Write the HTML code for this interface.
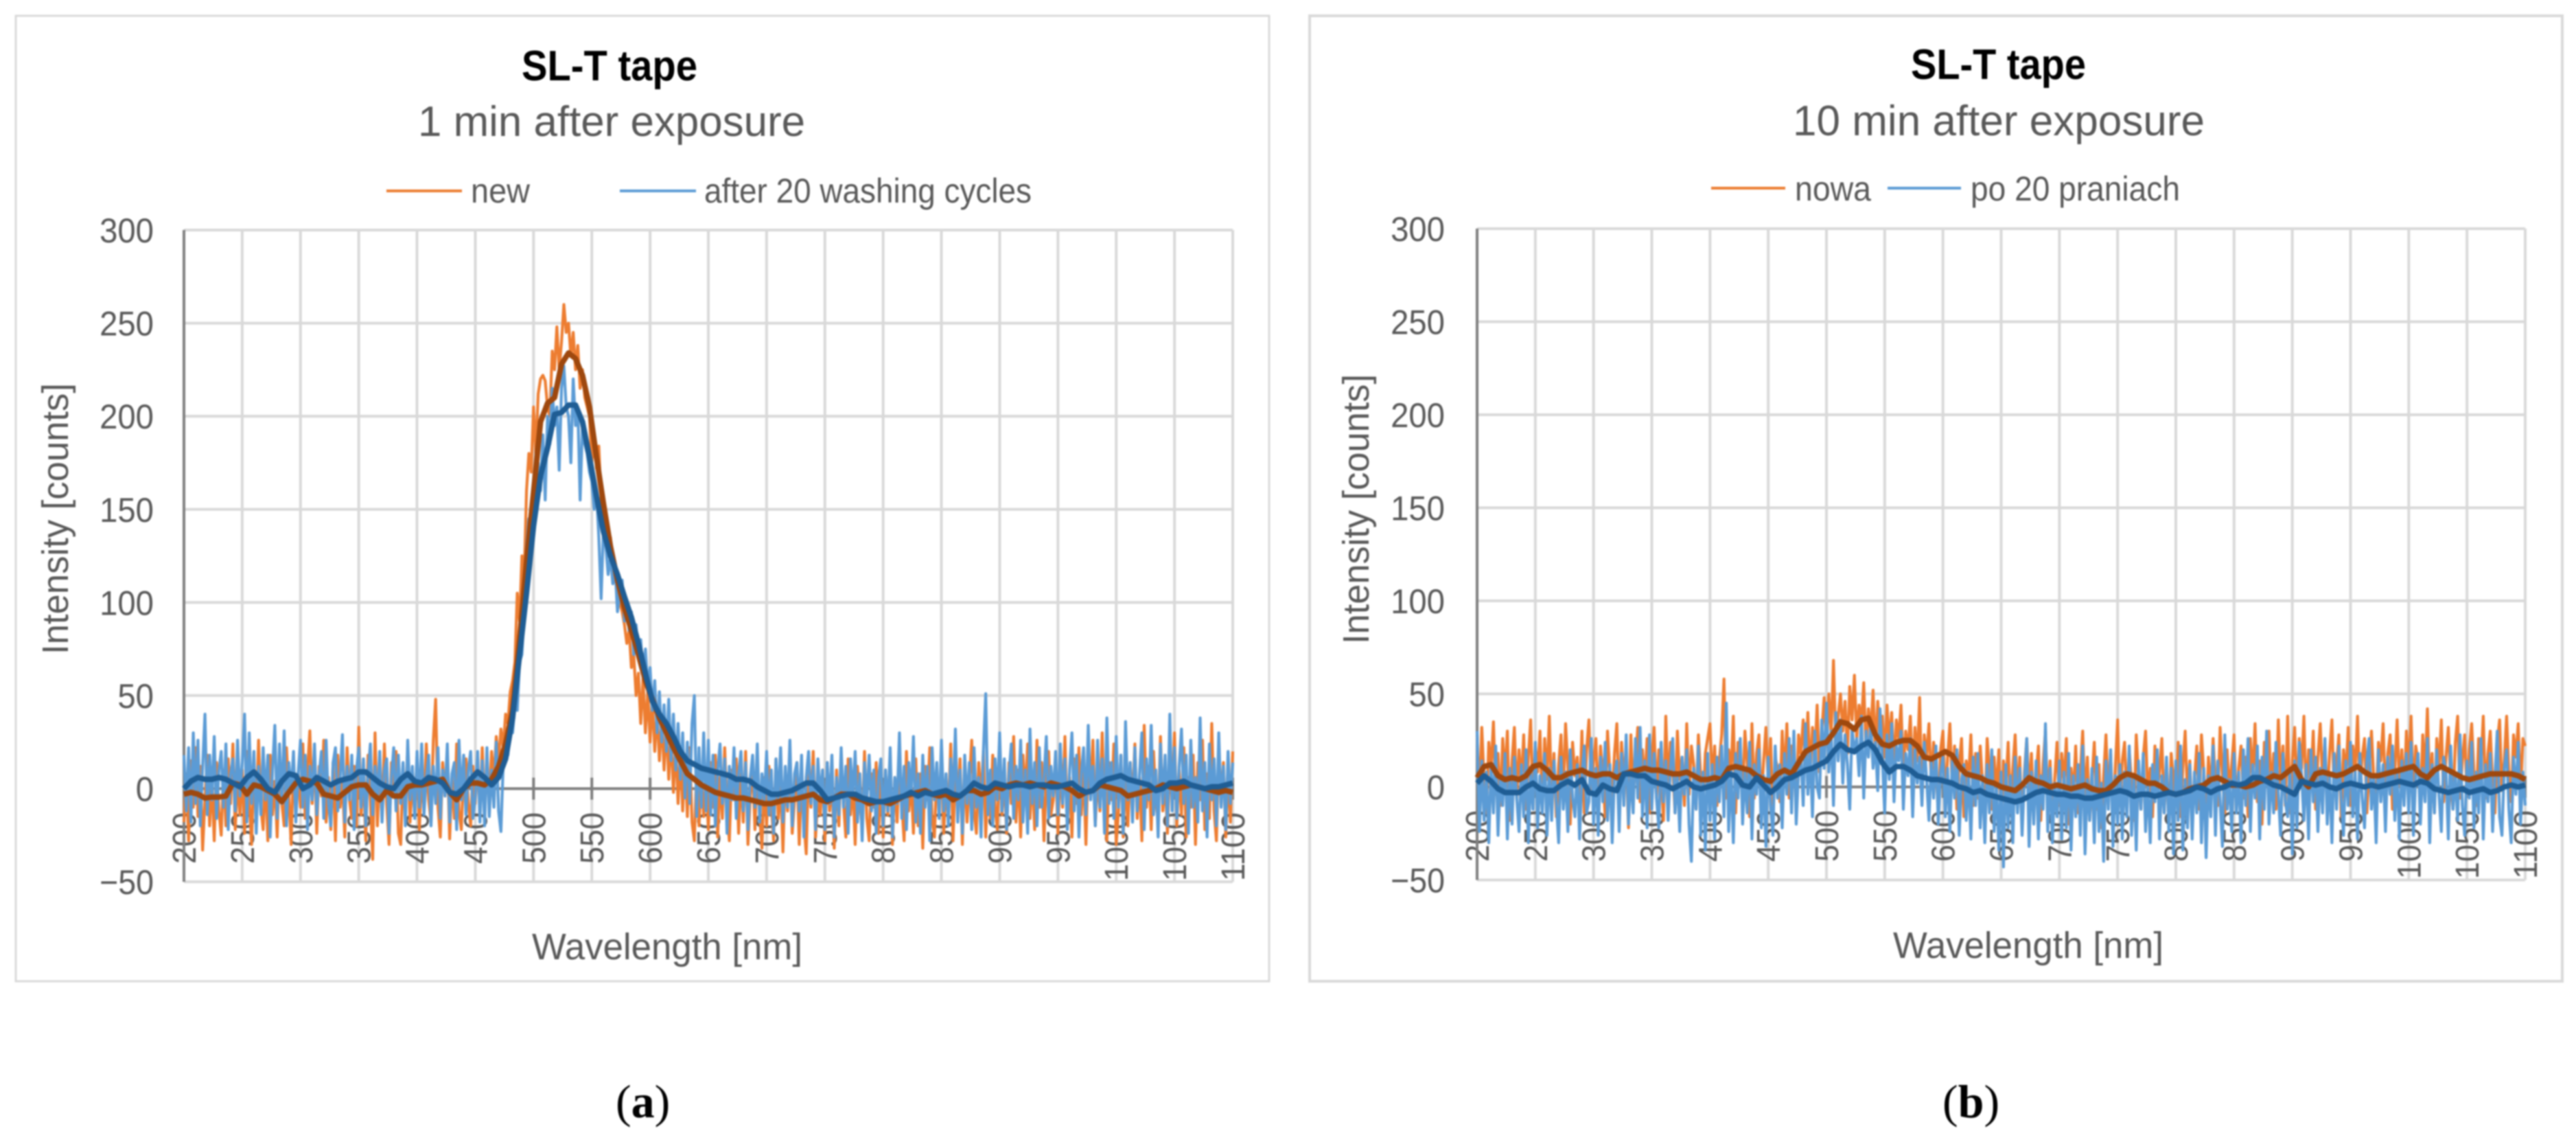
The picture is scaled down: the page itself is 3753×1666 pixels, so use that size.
<!DOCTYPE html>
<html lang="en">
<head>
<meta charset="utf-8">
<title>SL-T tape spectra</title>
<style>
html,body{margin:0;padding:0;background:#fff;width:3753px;height:1666px;overflow:hidden}
svg{display:block;filter:blur(1.1px)}
text{font-family:"Liberation Sans",sans-serif;fill:#595959}
.cap{font-family:"Liberation Serif",serif;fill:#000;font-size:68px}
</style>
</head>
<body>
<svg id="figure" xmlns="http://www.w3.org/2000/svg" width="3753" height="1666" viewBox="0 0 3753 1666">
  <rect x="23" y="23" width="1826" height="1406" fill="#fff" stroke="#d9d9d9" stroke-width="3"/>
  <rect x="1908" y="23" width="1825" height="1406" fill="#fff" stroke="#d9d9d9" stroke-width="4"/>
  <g id="chart-a"></g>
  <g id="chart-b"></g>

  <text x="760" y="117" font-size="62" font-weight="bold" style="fill:#000" textLength="256" lengthAdjust="spacingAndGlyphs">SL-T tape</text>
  <text x="609" y="198" font-size="62" textLength="564" lengthAdjust="spacingAndGlyphs">1 min after exposure</text>
  <line x1="563" x2="673" y1="278" y2="278" stroke="#ed7d31" stroke-width="4"/>
  <text x="686" y="295" font-size="50" textLength="86" lengthAdjust="spacingAndGlyphs">new</text>
  <line x1="903" x2="1014" y1="278" y2="278" stroke="#5b9bd5" stroke-width="4"/>
  <text x="1026" y="295" font-size="50" textLength="477" lengthAdjust="spacingAndGlyphs">after 20 washing cycles</text>
  <text x="775" y="1397" font-size="54" textLength="394" lengthAdjust="spacingAndGlyphs">Wavelength [nm]</text>
  <text transform="translate(99,953) rotate(-90)" font-size="54" textLength="395" lengthAdjust="spacingAndGlyphs">Intensity [counts]</text>
  <text class="cap" x="897" y="1627">(<tspan font-weight="bold" style="fill:#000">a</tspan>)</text>

  <text x="2784" y="115" font-size="62" font-weight="bold" style="fill:#000" textLength="255" lengthAdjust="spacingAndGlyphs">SL-T tape</text>
  <text x="2612" y="197" font-size="62" textLength="600" lengthAdjust="spacingAndGlyphs">10 min after exposure</text>
  <line x1="2493" x2="2601" y1="274" y2="274" stroke="#ed7d31" stroke-width="4"/>
  <text x="2615" y="292" font-size="50" textLength="111" lengthAdjust="spacingAndGlyphs">nowa</text>
  <line x1="2750" x2="2857" y1="274" y2="274" stroke="#5b9bd5" stroke-width="4"/>
  <text x="2871" y="292" font-size="50" textLength="305" lengthAdjust="spacingAndGlyphs">po 20 praniach</text>
  <text x="2758" y="1395" font-size="54" textLength="394" lengthAdjust="spacingAndGlyphs">Wavelength [nm]</text>
  <text transform="translate(1994,938) rotate(-90)" font-size="54" textLength="393" lengthAdjust="spacingAndGlyphs">Intensity [counts]</text>
  <text class="cap" x="2830" y="1627">(<tspan font-weight="bold" style="fill:#000">b</tspan>)</text>
</svg>
<script>
const xTicks = [200,250,300,350,400,450,500,550,600,650,700,750,800,850,900,950,1000,1050,1100];
const yTicks = [-50,0,50,100,150,200,250,300];
const yTickLabels = ['\u221250','0','50','100','150','200','250','300'];
const rawStartNm = 200;
const rawStepNm = 2;
const smoothStartNm = 200;
const smoothStepNm = 6;

const newRawA = [
-18,8,-28,15,-10,22,-15,12,-33,-6,18,-20,6,-28,14,-12,-25,10,-20,16,-8,24,-22,6,-14,
10,-24,20,-6,-30,12,-16,26,-10,-22,8,-28,18,-14,4,-26,14,-8,-20,22,-4,-30,16,-12,8,
-10,24,-16,10,31,-8,20,-24,12,-4,26,-18,6,-22,14,-28,18,-10,4,-26,22,-6,-16,12,-20,
33,-14,8,-28,18,-6,-38,30,-20,10,-16,24,-8,-30,14,-4,20,-24,-30,12,-10,22,-18,6,-14,
18,-22,8,-12,24,-6,-18,26,48,-10,-26,14,-4,20,-27,6,-16,24,-12,-22,10,16,-8,-20,12,
-8,18,-15,22,-12,15,-6,20,5,28,15,32,22,40,35,52,58,68,105,90,125,115,160,180,170,
205,180,212,220,222,219,205,200,235,225,248,225,240,260,245,250,232,245,225,238,215,225,210,205,200,
175,190,172,184,155,150,140,125,135,120,112,108,100,95,88,78,85,65,72,50,62,35,60,30,52,
25,48,20,42,15,38,10,35,5,30,-2,25,-8,20,-12,18,-15,22,-18,-28,12,-20,8,-15,5,
-22,14,-10,18,-26,6,-16,22,-12,-28,10,-6,16,-24,8,-18,20,-30,-4,12,-22,14,-14,-32,6,
-20,12,-8,-28,16,-16,4,-34,10,-12,18,-24,-6,14,-30,8,-18,-35,12,-10,20,-26,-4,-14,10,
-28,14,-12,6,-32,10,-20,18,-8,-26,16,-14,4,-30,12,-6,-22,20,-16,-28,8,-10,14,-24,6,
-26,10,-14,18,-30,6,-18,14,-8,-28,20,-12,4,-24,16,-20,8,-32,12,-6,22,-16,-26,10,-10,
18,-24,6,-14,24,-28,10,-8,16,-30,12,-18,4,26,-12,-24,14,-6,20,-26,8,-16,18,-10,-22,
22,-14,6,-24,14,-8,28,-18,10,-26,18,-4,24,-16,8,-22,26,-10,14,-28,6,20,-14,-6,16,
-24,12,-10,28,-18,6,-26,16,-8,22,-14,10,-30,18,-4,26,-20,8,-12,30,-16,-28,14,-6,24,
-30,-12,18,-26,8,-20,14,-8,24,-16,6,-28,34,-10,12,-22,20,-6,-18,28,-12,4,-24,16,-8,
30,-20,10,-14,22,-26,6,-10,18,-30,14,-6,26,-22,8,-16,35,-12,-28,20,-8,14,-26,10,-18,
20];

const washedRawA = [
18,-12,22,-18,30,-8,26,-20,12,40,-14,18,-6,28,-16,10,20,-10,24,-22,8,16,-12,26,-4,
14,40,-18,30,-8,20,-24,12,-14,22,-6,18,-26,10,34,-16,24,-8,31,-20,14,-2,20,-18,8,
26,-10,18,-22,12,-6,24,-14,8,20,-16,26,-8,-20,14,22,-12,6,29,-18,12,-6,18,-22,10,
22,-10,16,-20,8,24,-14,12,-6,20,-18,10,16,-24,6,22,-12,18,-8,14,-20,26,-6,12,-16,
20,-10,24,-14,6,18,-20,12,-8,22,-16,10,-4,24,-18,8,14,-22,26,-6,18,-14,10,20,-16,
-5,20,-18,15,-20,22,-15,10,-10,25,-12,-23,14,24,18,32,30,45,42,68,72,95,130,145,125,
165,150,175,160,190,155,200,185,215,195,205,171,215,227,205,200,175,220,195,205,155,195,185,180,170,
165,150,160,135,102,140,130,115,125,110,118,95,105,112,90,100,85,95,72,88,70,80,60,75,55,
65,42,58,30,52,25,45,20,48,15,40,10,35,5,30,-5,25,-8,35,50,-15,22,-10,30,-12,
26,-14,18,-20,10,24,-8,16,-24,12,-6,22,-16,8,20,-12,14,-22,6,18,-10,24,-18,8,-6,
20,-14,10,-24,16,-6,22,-18,12,-10,26,-20,8,14,-12,18,-26,6,20,-8,12,-22,16,-4,10,
-22,14,-8,18,-26,6,-14,22,-10,12,-24,16,-4,20,-18,8,-28,14,-6,18,-12,10,-24,6,16,
-20,10,-12,22,-26,6,-8,30,-16,12,-22,14,-4,28,-18,8,-24,18,-10,12,-28,22,-6,14,-16,
26,-12,8,-20,16,-6,32,-18,10,-24,18,-8,14,-22,22,-10,6,-26,20,51,-14,10,-20,16,-6,
30,-12,16,-22,8,24,-16,12,-6,26,-18,10,-24,32,-8,14,-20,22,-10,6,28,-16,12,-4,20,
-14,24,-8,16,-22,10,30,-12,18,-26,8,22,-14,34,-6,12,-20,26,-10,16,-24,38,-8,14,-16,
28,-10,18,-24,36,-6,14,-18,22,-12,8,30,-22,16,-6,34,-14,10,-26,24,-8,18,-20,40,-12,
22,-16,12,32,-8,18,-24,26,-10,6,-18,38,-12,14,-26,24,-6,16,-20,30,-10,12,-22,20,-8,
14];

const newSmoothA = [
-3,-2,-3,-5,-4.5,-4.5,-4,3,2,-3,
2,1,-1,-3,-7,-2,3,5,4,3,
-3,-4,-5,-2,1,2,2,-3,-6,-1,
-4,-4,1,2,2,3,4,5,-2,-6,
0,3,3,2,5,12,24,42,80,122,
159,197,207,210,228,234,231,222,205,178,
153,130,112,97,85,72,58,48,38,30,
22,15,8,5,2,0,-2,-3,-4,-5,
-5,-6,-7,-8,-8,-7,-6,-6,-5,-4,
-3,-6,-7,-5,-3,-3,-5,-6,-8,-7,
-7,-8,-6,-4,-3,-2,-1,-3,-4,-3,
-6,-4,-1,-1,-3,-2,1,0,2,3,
2,3,2,1,3,2,1,-1,-4,-2,
-1,2,1,0,-1,-4,-3,-2,-1,0,
2,1,0,1,2,1,0,-1,-2,-1,
-2];

const washedSmoothA = [
0,4,6,5,5,6,5,3,1,6,
9,5,0,-2,4,8,7,0,2,6,
4,2,4,5,6,9,9,6,3,1,
0,5,8,4,3,6,5,3,-2,-3,
0,5,9,6,2,6,16,38,72,105,
141,168,183,201,202,206,206,197,178,157,
138,125,115,103,92,78,62,47,40,35,
28,20,15,13,11,10,9,8,7,5,
5,4,1,-1,-3,-3,-2,-1,1,3,
3,-1,-6,-5,-4,-3,-3,-5,-6,-7,
-7,-6,-5,-4,-2,-4,-2,-3,-2,-1,
-3,-4,-1,3,1,0,3,2,1,2,
2,1,2,2,1,1,2,3,0,-2,
-1,3,5,6,7,5,4,3,2,-1,
0,3,3,4,2,1,0,1,1,2,
3];

const newRawB = [
28,-8,32,4,-14,24,10,35,-4,18,-10,26,6,30,-18,14,32,-6,20,2,28,-12,16,36,-8,
22,8,30,-12,26,4,38,-6,18,-16,12,28,-4,34,10,-20,24,6,16,-8,30,-14,20,36,-2,
14,26,-10,22,6,-16,30,8,-6,18,34,-12,24,4,16,-22,28,-4,12,32,-8,20,2,26,-14,
16,32,-6,20,8,-18,38,-2,24,10,-14,30,4,16,-10,34,-4,22,12,-12,28,6,-8,18,26,
34,2,22,-10,14,28,58,-6,20,8,38,-14,24,6,-4,30,12,-16,34,-6,18,28,-10,14,32,
2,26,-18,16,10,-8,30,4,34,-6,22,14,-12,28,18,36,10,40,6,32,16,44,8,30,48,
22,50,28,68,24,38,50,30,46,18,54,36,60,26,44,34,56,20,42,30,52,18,46,28,38,
16,44,24,40,10,36,26,44,8,30,20,38,4,32,14,48,-6,28,16,34,2,24,10,-14,20,
30,-8,16,34,0,22,-12,12,26,-16,14,4,28,-10,18,-6,22,2,-18,26,8,-12,16,-4,20,
-20,14,0,24,-12,10,28,-6,16,-22,8,26,-4,18,-14,6,22,-18,12,30,-8,14,-16,4,24,
-10,18,2,26,-20,10,-4,22,-14,8,30,-8,16,-18,4,24,-12,12,-22,6,28,-6,18,-16,10,
36,-10,14,24,-8,20,2,-18,28,6,-12,16,30,-6,10,-16,22,-2,8,26,-14,12,-20,18,4,
-8,24,-16,10,30,-6,14,-20,4,22,-12,28,8,-18,16,-4,26,2,-10,32,6,-14,20,-2,12,
28,-12,10,22,-6,16,-16,26,4,34,-8,14,-20,24,6,30,-4,18,-12,36,2,22,-10,38,-14,
14,32,-6,26,10,38,-8,20,4,30,-12,16,34,2,24,-8,18,36,-4,12,28,-16,20,6,32,
-10,22,8,38,-2,16,26,-14,10,30,4,-8,24,14,34,-6,18,28,-12,8,36,0,20,-4,30,
10,38,-6,22,14,-10,28,6,42,-2,18,-14,26,10,36,-8,16,32,2,-12,24,38,-6,14,28,
-4,20,34,8,-10,26,12,38,-6,18,30,2,-14,24,36,-2,14,38,8,-8,28,16,34,-4,26,
22];

const washedRawB = [
30,-24,14,-18,8,-30,12,-14,22,-26,6,-10,18,-28,10,-20,16,-6,-24,12,-16,20,-30,8,-12,
24,-22,6,-14,18,-26,10,-18,14,-8,-30,16,-12,8,-24,20,-6,-16,12,-28,6,22,-14,-8,26,
-20,10,-26,16,-8,24,-18,12,-30,6,14,-24,18,-10,28,-20,8,-14,26,-6,32,-16,14,-22,28,
-12,18,-6,-22,24,-8,14,-18,10,26,-14,6,-24,16,-4,20,-20,-40,10,-12,22,-26,8,-34,18,
-18,12,-28,16,-8,22,-16,45,-24,10,-30,18,-6,26,-20,8,-14,24,-28,12,-4,20,-22,6,-32,
16,-10,-26,22,-6,12,-22,18,-4,26,-14,30,-20,8,16,-10,34,-4,20,-16,30,0,-6,36,10,
45,8,30,-10,40,14,36,2,28,12,-12,32,18,26,6,38,-6,30,16,34,10,24,-2,42,16,
-14,28,4,34,-8,22,14,30,-12,18,6,26,-16,20,2,16,-10,24,4,-18,14,-6,22,-20,8,
16,-16,10,-24,14,-6,20,-26,4,12,-18,8,-28,16,-10,18,-22,6,-30,12,-14,20,-24,2,-34,
8,-43,12,-22,6,-30,16,-14,10,-26,4,26,-32,8,-20,14,-28,6,-12,34,-24,10,-30,2,-16,
14,-28,8,-22,18,-34,6,-16,12,-26,22,-36,4,-18,10,-30,16,-24,2,-40,14,-12,20,-32,6,
-20,12,-28,8,-16,22,-26,6,-34,14,-12,18,-24,2,-30,12,-8,20,-28,6,-14,16,-24,10,-36,
14,-18,22,-34,4,-22,12,-28,8,-14,18,-30,10,-38,6,-16,22,-26,14,-8,-32,28,-12,4,-24,
18,-14,8,-30,20,-10,26,-24,12,-6,22,-28,16,-12,30,-20,8,-14,24,-4,-26,18,-8,-16,10,
-36,14,-22,24,6,-18,12,-28,20,-8,16,-24,10,-14,26,-20,6,-30,18,-12,22,-6,-26,14,-10,
24,-16,8,-28,18,-6,-22,14,26,-12,6,-30,20,-8,12,-24,16,-4,22,-18,8,-28,14,-10,18,
-14,24,-26,6,18,-20,10,-8,26,-30,12,-14,20,-4,-24,16,8,-28,22,-12,6,-18,28,-10,-26,
14,-6,24,-22,8,-14,26,-28,12,-8,18,-24,6,30,-16,-26,10,20,-12,-30,16,-4,24,-20,8,
-10];

const newSmoothB = [
5,11,12,6,4,5,4,6,11,12,
9,5,5,7,8,9,7,6,7,7,
5,7,8,9,10,9,9,8,7,7,
8,6,4,4,5,4,10,11,10,9,
6,4,3,7,9,7,13,19,21,23,
24,29,35,34,31,36,37,28,23,22,
24,25,25,22,16,15,17,19,17,11,
7,6,5,3,2,0,-1,-2,1,5,
3,2,0,1,0,-1,0,1,-1,-2,
-2,1,5,7,6,4,2,2,0,-3,
-4,-3,-1,0,1,4,5,3,1,1,
0,1,3,4,6,5,8,11,4,0,
7,8,7,6,7,9,11,8,6,6,
7,8,9,10,11,7,5,9,11,9,
7,5,4,5,6,7,7,7,7,6,
4];

const washedSmoothB = [
2,6,3,-1,-3,-3,-3,0,2,-1,
-2,-2,1,3,1,4,-3,-4,1,-1,
-2,7,7,6,6,3,2,1,-1,1,
3,0,-1,0,1,3,7,6,1,0,
5,1,-3,0,4,5,7,9,10,12,
14,19,23,20,19,22,24,20,13,8,
11,11,9,6,5,4,4,3,2,0,
-1,-3,-2,-4,-5,-6,-7,-8,-7,-5,
-3,-2,-3,-4,-4,-5,-5,-6,-6,-5,
-4,-3,-2,-3,-5,-4,-4,-5,-4,-3,
-4,-3,-2,0,-1,-3,-1,0,2,1,
2,5,5,3,1,0,-2,-4,3,2,
1,2,0,-1,1,2,1,0,1,0,
1,2,3,2,1,3,2,-1,-2,-3,
-2,-1,-3,-2,-1,-3,-2,0,1,0,
1];

const NS = 'http://www.w3.org/2000/svg';

function makeEl(parent, tag, attrs) {
  const el = document.createElementNS(NS, tag);
  for (const k in attrs) el.setAttribute(k, attrs[k]);
  parent.appendChild(el);
  return el;
}

function drawChart(groupId, box, series) {
  const g = document.getElementById(groupId);
  const xScale = nm => box.left + (nm - 200) / 900 * (box.right - box.left);
  const yScale = v => box.zero - v * (box.zero - box.top) / 300;

  yTicks.forEach(function (t) {
    const line = makeEl(g, 'line', {x1: box.left, x2: box.right, y1: yScale(t), y2: yScale(t), stroke: '#d9d9d9', 'stroke-width': 4});
    
    
  });
  xTicks.forEach(function (t) {
    const line = makeEl(g, 'line', {x1: xScale(t), x2: xScale(t), y1: yScale(300), y2: yScale(-50), stroke: '#d9d9d9', 'stroke-width': 4});
    
    
  });

  yTicks.forEach(function (t, i) {
    const text = yTickLabels[i];
    const label = makeEl(g, 'text', {x: box.yLabelX, y: yScale(t) + 18, 'text-anchor': 'end', 'font-size': 50, textLength: text.length * 26.3, lengthAdjust: 'spacingAndGlyphs'});
    
    
    label.textContent = text;
  });
  xTicks.forEach(function (t) {
    const text = String(t);
    const label = makeEl(g, 'text', {transform: 'translate(' + (xScale(t) + 17) + ',' + box.xLabelY + ') rotate(-90)', 'text-anchor': 'end', 'font-size': 48, textLength: text.length * 25, lengthAdjust: 'spacingAndGlyphs'});
    
    
    label.textContent = text;
  });

  const axisY = makeEl(g, 'line', {x1: box.left, x2: box.left, y1: yScale(300), y2: yScale(-50), stroke: '#7f7f7f', 'stroke-width': 4});
  
  
  const axisX = makeEl(g, 'line', {x1: box.left, x2: box.right, y1: yScale(0), y2: yScale(0), stroke: '#7f7f7f', 'stroke-width': 4});
  
  
  xTicks.forEach(function (t) {
    const tick = makeEl(g, 'line', {x1: xScale(t), x2: xScale(t), y1: yScale(0) - 16, y2: yScale(0) + 16, stroke: '#7f7f7f', 'stroke-width': 4});
    
    
  });

  series.forEach(function (s) {
    const pts = s.values.map(function (v, i) {
      return xScale(s.start + i * s.step).toFixed(1) + ',' + yScale(v).toFixed(1);
    }).join(' ');
    const line = makeEl(g, 'polyline', {points: pts, fill: 'none', stroke: s.color, 'stroke-width': s.width, 'stroke-linejoin': 'round'});
    
    
  });
}

drawChart('chart-a', {left: 268, right: 1796, top: 335, zero: 1148.5, yLabelX: 224, xLabelY: 1183}, [
  {name: 'series-new-raw', values: newRawA, start: rawStartNm, step: rawStepNm, color: '#ed7d31', width: 4.2},
  {name: 'series-washed-raw', values: washedRawA, start: rawStartNm, step: rawStepNm, color: '#5b9bd5', width: 4.2},
  {name: 'series-new-smoothed', values: newSmoothA, start: smoothStartNm, step: smoothStepNm, color: '#9e480e', width: 8},
  {name: 'series-washed-smoothed', values: washedSmoothA, start: smoothStartNm, step: smoothStepNm, color: '#1f5d94', width: 8}
]);
drawChart('chart-b', {left: 2152, right: 3679, top: 333, zero: 1146, yLabelX: 2105, xLabelY: 1180}, [
  {name: 'series-nowa-raw', values: newRawB, start: rawStartNm, step: rawStepNm, color: '#ed7d31', width: 4.2},
  {name: 'series-po-20-raw', values: washedRawB, start: rawStartNm, step: rawStepNm, color: '#5b9bd5', width: 4.2},
  {name: 'series-nowa-smoothed', values: newSmoothB, start: smoothStartNm, step: smoothStepNm, color: '#9e480e', width: 8},
  {name: 'series-po-20-smoothed', values: washedSmoothB, start: smoothStartNm, step: smoothStepNm, color: '#1f5d94', width: 8}
]);
</script>
</body>
</html>
